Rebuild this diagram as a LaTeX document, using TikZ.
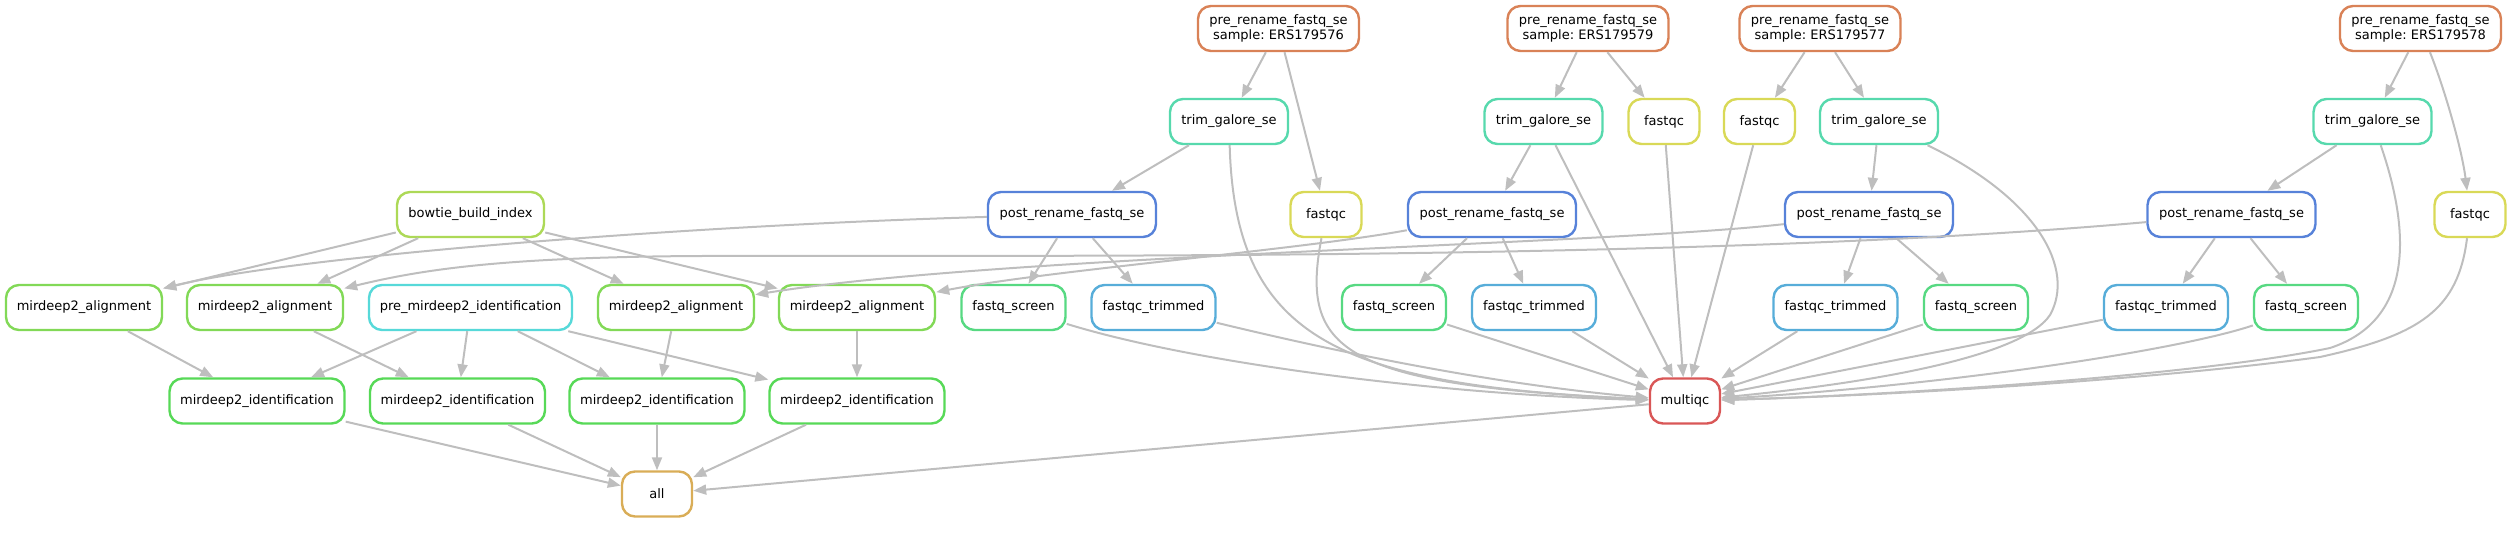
\documentclass[tikz,border=0pt]{standalone}
\usepackage{fontspec}
\setmainfont{DejaVu Sans}
\usetikzlibrary{arrows.meta}
\definecolor{cMultiqc}{RGB}{217,87,87}
\definecolor{cPreRename}{RGB}{217,130,87}
\definecolor{cAll}{RGB}{217,173,87}
\definecolor{cFastqc}{RGB}{217,217,87}
\definecolor{cBowtie}{RGB}{173,217,87}
\definecolor{cAlign}{RGB}{130,217,87}
\definecolor{cIdent}{RGB}{87,217,87}
\definecolor{cScreen}{RGB}{87,217,130}
\definecolor{cTrim}{RGB}{87,217,173}
\definecolor{cPreMir}{RGB}{87,217,217}
\definecolor{cTrimmed}{RGB}{87,173,217}
\definecolor{cPost}{RGB}{87,130,217}
\definecolor{edgegray}{RGB}{190,190,190}
\tikzset{
  rulebox/.style={draw, rounded corners=13pt, line width=2.4pt, minimum height=45pt,
    inner sep=0pt, fill=white, align=center, font=\fontsize{13pt}{14.5pt}\selectfont\frenchspacing},
  prerename/.style={rulebox, draw=cPreRename, minimum width=161pt},
  trimbox/.style={rulebox, draw=cTrim, minimum width=118pt},
  fastqcbox/.style={rulebox, draw=cFastqc, minimum width=71pt},
  postbox/.style={rulebox, draw=cPost, minimum width=168pt},
  trimmedbox/.style={rulebox, draw=cTrimmed, minimum width=124pt},
  screenbox/.style={rulebox, draw=cScreen, minimum width=104pt},
  alignbox/.style={rulebox, draw=cAlign, minimum width=156pt},
  identbox/.style={rulebox, draw=cIdent, minimum width=175pt},
  premirbox/.style={rulebox, draw=cPreMir, minimum width=203pt},
  bowtiebox/.style={rulebox, draw=cBowtie, minimum width=147pt},
  allbox/.style={rulebox, draw=cAll, minimum width=70pt},
  multiqcbox/.style={rulebox, draw=cMultiqc, minimum width=70pt},
  edge/.style={draw=edgegray, line width=2pt, -{Triangle[length=13pt,width=10pt]}}
}
\begin{document}
\begin{tikzpicture}[x=1pt,y=-1pt]
\useasboundingbox (0,0) rectangle (2512,539);
% row 1
\node[prerename] (preA) at (1278.5,28.5) {pre\_rename\_fastq\_se\\sample: ERS179576};
\node[prerename] (preB) at (1588,28.5) {pre\_rename\_fastq\_se\\sample: ERS179579};
\node[prerename] (preC) at (1820,28.5) {pre\_rename\_fastq\_se\\sample: ERS179577};
\node[prerename] (preD) at (2420.5,28.5) {pre\_rename\_fastq\_se\\sample: ERS179578};
% row 2
\node[trimbox] (trimA) at (1229,121.5) {trim\_galore\_se};
\node[trimbox] (trimB) at (1543.5,121.5) {trim\_galore\_se};
\node[fastqcbox] (fqcB) at (1664,121.5) {fastqc};
\node[fastqcbox] (fqcC) at (1759.5,121.5) {fastqc};
\node[trimbox] (trimC) at (1879,121.5) {trim\_galore\_se};
\node[trimbox] (trimD) at (2372.5,121.5) {trim\_galore\_se};
% row 3
\node[bowtiebox] (bowtie) at (470.5,214.5) {bowtie\_build\_index};
\node[postbox] (postA) at (1072,214.5) {post\_rename\_fastq\_se};
\node[fastqcbox] (fqcA) at (1326,214.5) {fastqc};
\node[postbox] (postB) at (1492,214.5) {post\_rename\_fastq\_se};
\node[postbox] (postC) at (1869,214.5) {post\_rename\_fastq\_se};
\node[postbox] (postD) at (2231.5,214.5) {post\_rename\_fastq\_se};
\node[fastqcbox] (fqcD) at (2470,214.5) {fastqc};
% row 4
\node[alignbox] (mda1) at (84,307.5) {mirdeep2\_alignment};
\node[alignbox] (mda2) at (265,307.5) {mirdeep2\_alignment};
\node[premirbox] (premir) at (470.5,307.5) {pre\_mirdeep2\_identification};
\node[alignbox] (mda3) at (676,307.5) {mirdeep2\_alignment};
\node[alignbox] (mda4) at (857,307.5) {mirdeep2\_alignment};
\node[screenbox] (fsA) at (1013.5,307.5) {fastq\_screen};
\node[trimmedbox] (fqtA) at (1153.5,307.5) {fastqc\_trimmed};
\node[screenbox] (fsB) at (1394,307.5) {fastq\_screen};
\node[trimmedbox] (fqtB) at (1534,307.5) {fastqc\_trimmed};
\node[trimmedbox] (fqtC) at (1835.5,307.5) {fastqc\_trimmed};
\node[screenbox] (fsC) at (1976,307.5) {fastq\_screen};
\node[trimmedbox] (fqtD) at (2166,307.5) {fastqc\_trimmed};
\node[screenbox] (fsD) at (2306,307.5) {fastq\_screen};
% row 5
\node[identbox] (mdi1) at (257,401) {mirdeep2\_identification};
\node[identbox] (mdi2) at (457.5,401) {mirdeep2\_identification};
\node[identbox] (mdi3) at (657,401) {mirdeep2\_identification};
\node[identbox] (mdi4) at (857,401) {mirdeep2\_identification};
\node[multiqcbox] (multiqc) at (1685,401) {multiqc};
% row 6
\node[allbox] (all) at (657,494) {all};

% pre_rename edges
\draw[edge] (preA) -- (trimA);
\draw[edge] (preA) -- (fqcA);
\draw[edge] (preB) -- (trimB);
\draw[edge] (preB) -- (fqcB);
\draw[edge] (preC) -- (fqcC);
\draw[edge] (preC) -- (trimC);
\draw[edge] (preD) -- (trimD);
\draw[edge] (preD) .. controls (2445,90) and (2462,150) .. (fqcD);
% trim -> post
\draw[edge] (trimA) -- (postA);
\draw[edge] (trimB) -- (postB);
\draw[edge] (trimC) -- (postC);
\draw[edge] (trimD) -- (postD);
% post -> screen / trimmed
\draw[edge] (postA) -- (fsA);
\draw[edge] (postA) -- (fqtA);
\draw[edge] (postB) -- (fsB);
\draw[edge] (postB) -- (fqtB);
\draw[edge] (postC) -- (fqtC);
\draw[edge] (postC) -- (fsC);
\draw[edge] (postD) -- (fqtD);
\draw[edge] (postD) -- (fsD);
% post -> mirdeep2_alignment
\draw[edge] (postA) .. controls (700,225) and (300,255) .. (mda1);
\draw[edge] (postB) .. controls (1300,250) and (1050,270) .. (mda4);
\draw[edge] (postC) .. controls (1600,245) and (1000,255) .. (mda3);
\draw[edge] (postD) .. controls (1700,262) and (1000,255) .. (700,256) .. controls (500,257) and (420,270) .. (mda2);
% bowtie -> alignment
\draw[edge] (bowtie) -- (mda1);
\draw[edge] (bowtie) -- (mda2);
\draw[edge] (bowtie) -- (mda3);
\draw[edge] (bowtie) -- (mda4);
% alignment -> identification
\draw[edge] (mda1) -- (mdi1);
\draw[edge] (mda2) -- (mdi2);
\draw[edge] (mda3) -- (mdi3);
\draw[edge] (mda4) -- (mdi4);
% pre_mirdeep2 -> identification
\draw[edge] (premir) -- (mdi1);
\draw[edge] (premir) -- (mdi2);
\draw[edge] (premir) -- (mdi3);
\draw[edge] (premir) -- (mdi4);
% identification -> all
\draw[edge] (mdi1) -- (all);
\draw[edge] (mdi2) -- (all);
\draw[edge] (mdi3) -- (all);
\draw[edge] (mdi4) -- (all);
\draw[edge] (multiqc) -- (all);
% -> multiqc
\draw[edge] (trimA) .. controls (1235,340) and (1340,385) .. (multiqc);
\draw[edge] (fqcA) .. controls (1300,350) and (1340,385) .. (multiqc);
\draw[edge] (fsA) .. controls (1200,365) and (1450,395) .. (multiqc);
\draw[edge] (fqtA) .. controls (1350,355) and (1500,385) .. (multiqc);
\draw[edge] (fsB) -- (multiqc);
\draw[edge] (fqtB) -- (multiqc);
\draw[edge] (trimB) -- (multiqc);
\draw[edge] (fqcB) -- (multiqc);
\draw[edge] (fqcC) -- (multiqc);
\draw[edge] (fqtC) -- (multiqc);
\draw[edge] (fsC) -- (multiqc);
\draw[edge] (trimC) .. controls (2040,200) and (2075,270) .. (2050,315) .. controls (2020,360) and (1850,385) .. (multiqc);
\draw[edge] (fqtD) -- (multiqc);
\draw[edge] (fsD) .. controls (2180,350) and (1950,385) .. (multiqc);
\draw[edge] (trimD) .. controls (2410,230) and (2415,320) .. (2330,348) .. controls (2200,375) and (1900,395) .. (multiqc);
\draw[edge] (fqcD) .. controls (2458,310) and (2420,335) .. (2320,357) .. controls (2150,380) and (1900,395) .. (multiqc);
\end{tikzpicture}
\end{document}
